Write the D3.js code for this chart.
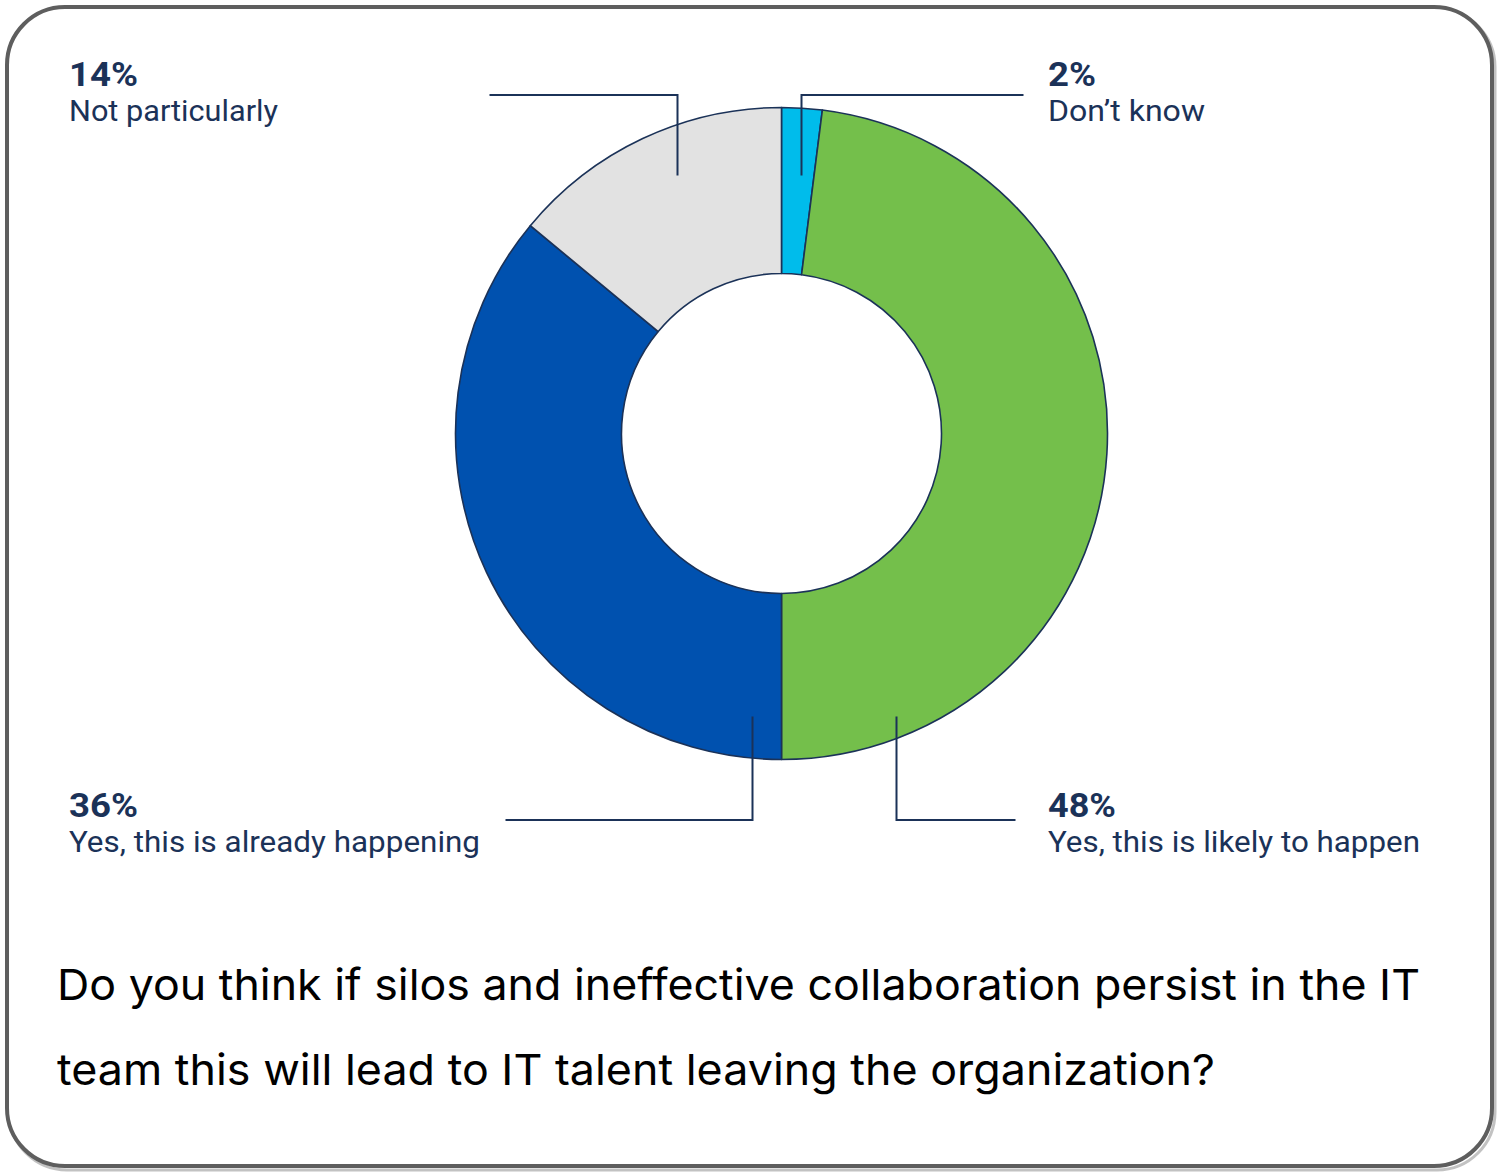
<!DOCTYPE html>
<html>
<head>
<meta charset="utf-8">
<script src="https://cdn.jsdelivr.net/npm/d3@7"></script>
<style>
  html, body { margin: 0; padding: 0; background: #ffffff; }
  svg { display: block; }
</style>
</head>
<body>
<svg id="chart" width="1500" height="1175"></svg>
<script>
// ---- data ----
const categories = ["Don’t know", "Yes, this is likely to happen", "Yes, this is already happening", "Not particularly"];
const values = [2, 48, 36, 14];
const valueLabels = ["2%", "48%", "36%", "14%"];
const colors = ["#00BCEB", "#74BF4B", "#0051AF", "#E2E2E2"];
const titleLines = [
  "Do you think if silos and ineffective collaboration persist in the IT",
  "team this will lead to IT talent leaving the organization?"
];

// ---- layout ----
const W = 1500, H = 1175;
const cx = 781.5, cy = 433.5;
const outerR = 326, innerR = 160;
const navy = "#1B3258";

// label layout per category: text anchor, fitted text widths, leader polyline offsets relative to center
const labelLayout = [
  { tx: 1048, ty: 86,  pw: 48, cw: 157, line: [[20, -258], [20, -338.5], [242, -338.5]] },
  { tx: 1048, ty: 817, pw: 68, cw: 372, line: [[115, 283], [115, 386.5], [234, 386.5]] },
  { tx: 69,   ty: 817, pw: 69, cw: 411, line: [[-29, 283], [-29, 386.5], [-276, 386.5]] },
  { tx: 69,   ty: 86,  pw: 69, cw: 209, line: [[-104, -258], [-104, -338.5], [-292, -338.5]] }
];
const titleWidths = [1363, 1158];

const svg = d3.select("#chart");

// frame
svg.append("rect")
  .attr("x", 9).attr("y", 9).attr("width", W - 14).attr("height", H - 14)
  .attr("rx", 58).attr("ry", 58)
  .attr("fill", "none").attr("stroke", "#9a9a9a").attr("stroke-width", 3).attr("opacity", 0.6);
svg.append("rect")
  .attr("x", 7).attr("y", 7).attr("width", W - 15).attr("height", H - 16)
  .attr("rx", 58).attr("ry", 58)
  .attr("fill", "#ffffff").attr("stroke", "#5e5e5e").attr("stroke-width", 4);

const data = categories.map((c, i) => ({ cat: c, value: values[i], label: valueLabels[i], color: colors[i], layout: labelLayout[i] }));

const pie = d3.pie().value(d => d.value).sort(null);
const arc = d3.arc().innerRadius(innerR).outerRadius(outerR);

const g = svg.append("g").attr("transform", `translate(${cx},${cy})`);
g.selectAll("path.slice")
  .data(pie(data))
  .join("path")
  .attr("class", "slice")
  .attr("d", arc)
  .attr("fill", d => d.data.color)
  .attr("stroke", navy)
  .attr("stroke-width", 1.6)
  .attr("stroke-linejoin", "round");

// leader lines
const lineGen = d3.line();
g.selectAll("path.leader")
  .data(data)
  .join("path")
  .attr("class", "leader")
  .attr("d", d => lineGen(d.layout.line))
  .attr("fill", "none")
  .attr("stroke", navy)
  .attr("stroke-width", 2);

// labels
const lbl = svg.selectAll("g.lbl").data(data).join("g").attr("class", "lbl")
  .attr("transform", d => `translate(${d.layout.tx},${d.layout.ty})`);
lbl.append("text")
  .text(d => d.label)
  .attr("font-family", "Roboto, 'Liberation Sans', sans-serif")
  .attr("font-weight", 700)
  .attr("font-size", 33)
  .attr("textLength", d => d.layout.pw)
  .attr("lengthAdjust", "spacingAndGlyphs")
  .attr("fill", navy);
lbl.append("text")
  .attr("y", 35)
  .text(d => d.cat)
  .attr("font-family", "Roboto, 'Liberation Sans', sans-serif")
  .attr("font-size", 30)
  .attr("textLength", d => d.layout.cw)
  .attr("lengthAdjust", "spacingAndGlyphs")
  .attr("fill", navy);

// title
svg.selectAll("text.title")
  .data(titleLines)
  .join("text")
  .attr("class", "title")
  .attr("x", 57)
  .attr("y", (d, i) => 1000 + i * 85)
  .text(d => d)
  .attr("font-family", "Inter, 'Liberation Sans', sans-serif")
  .attr("font-size", 43)
  .attr("textLength", (d, i) => titleWidths[i])
  .attr("lengthAdjust", "spacingAndGlyphs")
  .attr("fill", "#000000");
</script>
</body>
</html>
